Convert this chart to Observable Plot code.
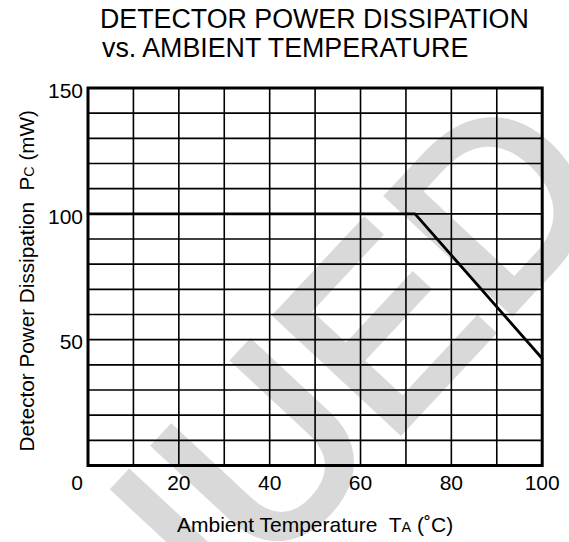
<!DOCTYPE html>
<html>
<head>
<meta charset="utf-8">
<script src="https://cdn.jsdelivr.net/npm/d3@7"></script>
<script src="https://cdn.jsdelivr.net/npm/@observablehq/plot@0.6"></script>
<style>
  html, body { margin: 0; padding: 0; background: #fff; }
  #wrap { position: relative; width: 569px; height: 542px; overflow: hidden; font-family: "Liberation Sans", Arial, sans-serif; }
  #chart { position: absolute; left: 0; top: 0; }
  .title { position: absolute; font-size: 26.8px; line-height: 29px; color: #000; white-space: nowrap; }
</style>
</head>
<body>
<div id="wrap">
  <div id="chart"></div>
  <div class="title" style="left:100px; top:4.6px;">DETECTOR POWER DISSIPATION</div>
  <div class="title" style="left:102px; top:33.6px;">vs. AMBIENT TEMPERATURE</div>
</div>
<script>
// ---- data ----
const curveTemp = [0, 72, 100];          // Ambient temperature (°C)
const curvePower = [100, 100, 42.5];     // Detector power dissipation (mW)
const xTickLabels = [20, 40, 60, 80, 100];
const yTickLabels = [50, 100, 150];
const originLabel = ["0"];
const gridTemps = [10, 20, 30, 40, 50, 60, 70, 80, 90];
const gridPowers = [10, 20, 30, 40, 50, 60, 70, 80, 90, 100, 110, 120, 130, 140];
const xLabelMain = "Ambient Temperature  T";
const xLabelSub = "A";
const xLabelTail = " (˚C)";
const yLabelMain = "Detector Power Dissipation  P";
const yLabelSub = "C";
const yLabelTail = " (mW)";
const watermarkText = ["NUED"];

const curve = curveTemp.map((t, i) => ({t, p: curvePower[i]}));
const font = "Liberation Sans, Arial, sans-serif";
const xTitle = xLabelMain + xLabelSub + xLabelTail;
const yTitle = yLabelMain + yLabelSub + yLabelTail;

const chart = Plot.plot({
  width: 569,
  height: 542,
  marginTop: 87.5,
  marginLeft: 87.5,
  marginRight: 27.3,
  marginBottom: 77,
  x: {domain: [0, 100], axis: null},
  y: {domain: [0, 150], axis: null},
  style: {fontFamily: font, fontSize: "21px", color: "#000", background: "transparent", overflow: "visible"},
  marks: [
    Plot.text(watermarkText, {frameAnchor: "top-left", dx: 145.2 - 87.5, dy: 703.2 - 87.5, rotate: -47,
      fontSize: 245, fill: "#d9d9d9", stroke: "#d9d9d9", strokeWidth: 8, strokeLinejoin: "miter",
      textAnchor: "start", lineAnchor: "bottom", fontFamily: font}),
    Plot.ruleX(gridTemps, {stroke: "#000", strokeWidth: 1.6}),
    Plot.ruleY(gridPowers, {stroke: "#000", strokeWidth: 1.6}),
    Plot.line(curve, {x: "t", y: "p", stroke: "#000", strokeWidth: 2.8}),
    Plot.frame({stroke: "#000", strokeWidth: 3}),
    Plot.axisX(xTickLabels, {tickSize: 0, tickPadding: 10, fontSize: 21, label: null}),
    Plot.axisY(yTickLabels, {tickSize: 0, tickPadding: 5, dy: 3, fontSize: 21, label: null}),
    Plot.text(originLabel, {x: () => 0, y: () => 0, dx: -11, dy: 10, lineAnchor: "top", fontSize: 21}),
    Plot.text([xTitle], {frameAnchor: "bottom", dy: 66.7, lineAnchor: "bottom", textAnchor: "middle", fontSize: 21}),
    Plot.text([yTitle], {frameAnchor: "left", dx: -54, dy: 4, rotate: -90, lineAnchor: "bottom", textAnchor: "middle", fontSize: 20.7})
  ]
});
document.getElementById("chart").appendChild(chart);

// small subscript-like letters inside the axis titles
function splitTitle(full, main, sub, tail, subSize) {
  d3.select(chart).selectAll("text").filter(function () { return this.textContent === full; })
    .each(function () {
      const t = d3.select(this);
      t.text(null);
      t.append("tspan").text(main);
      t.append("tspan").attr("font-size", subSize).text(sub);
      t.append("tspan").text(tail);
    });
}
splitTitle(xTitle, xLabelMain, xLabelSub, xLabelTail, "14.5px");
splitTitle(yTitle, yLabelMain, yLabelSub, yLabelTail, "14.3px");
</script>
</body>
</html>
